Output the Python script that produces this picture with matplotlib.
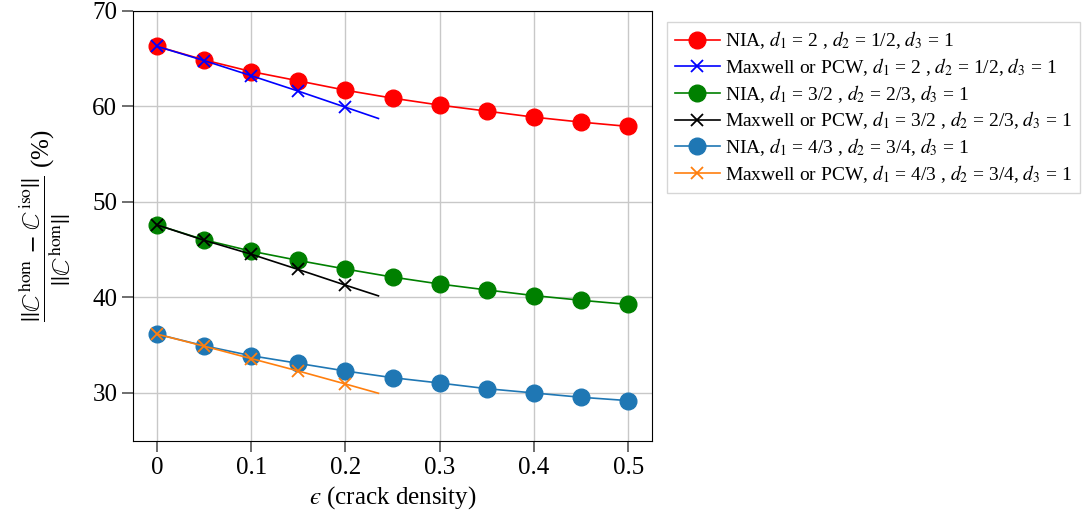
import numpy as np
import matplotlib
matplotlib.use('Agg')
import matplotlib.pyplot as plt

plt.rcParams['font.family'] = ['Liberation Serif', 'DejaVu Serif']
plt.rcParams['mathtext.fontset'] = 'stix'

# crack density
eps_nia = [0, 0.05, 0.1, 0.15, 0.2, 0.25, 0.3, 0.35, 0.4, 0.45, 0.5]
eps_mw = [0, 0.05, 0.1, 0.15, 0.2, 0.235]

# NIA results
nia_1 = [66.27, 64.85, 63.63, 62.66, 61.68, 60.85, 60.12, 59.49, 58.86, 58.34, 57.89]
nia_2 = [47.59, 46.03, 44.84, 43.87, 42.97, 42.13, 41.40, 40.78, 40.19, 39.70, 39.26]
nia_3 = [36.16, 34.94, 33.90, 33.10, 32.30, 31.60, 31.04, 30.45, 30.00, 29.55, 29.20]

# Maxwell / PCW results
mw_1 = [66.27, 64.78, 63.20, 61.58, 59.90, 58.72]
mw_2 = [47.59, 45.98, 44.52, 42.92, 41.28, 40.16]
mw_3 = [36.16, 34.90, 33.60, 32.30, 30.94, 29.97]

labels = [
    r'NIA, $d_1$ = 2 , $d_2$ = 1/2, $d_3$ = 1',
    r'Maxwell or PCW, $d_1$ = 2 , $d_2$ = 1/2, $d_3$ = 1',
    r'NIA, $d_1$ = 3/2 , $d_2$ = 2/3, $d_3$ = 1',
    r'Maxwell or PCW, $d_1$ = 3/2 , $d_2$ = 2/3, $d_3$ = 1',
    r'NIA, $d_1$ = 4/3 , $d_2$ = 3/4, $d_3$ = 1',
    r'Maxwell or PCW, $d_1$ = 4/3 , $d_2$ = 3/4, $d_3$ = 1',
]

fig = plt.figure(figsize=(10.83, 5.21), dpi=100)
ax = fig.add_axes([0.1231, 0.154, 0.6019 - 0.1231, 0.9795 - 0.154])

nia_cols = ['red', 'green', '#1f77b4']
mw_cols = ['blue', 'black', '#ff7f0e']
nia_all = [nia_1, nia_2, nia_3]
mw_all = [mw_1, mw_2, mw_3]

for i in range(3):
    ax.plot(eps_nia, nia_all[i], color=nia_cols[i], marker='o', markersize=12,
            lw=1.2, label=labels[2 * i])
    ax.plot(eps_mw, mw_all[i], color=mw_cols[i], marker='x', markersize=9,
            markeredgewidth=1.3, markevery=[0, 1, 2, 3, 4], lw=1.2,
            label=labels[2 * i + 1])

ax.set_xlim(-0.025, 0.525)
ax.set_ylim(25, 70)
ax.set_xticks([0, 0.1, 0.2, 0.3, 0.4, 0.5])
ax.set_xticklabels(['0', '0.1', '0.2', '0.3', '0.4', '0.5'])
ax.set_yticks([30, 40, 50, 60, 70])
ax.grid(True, color='#c8c8c8', lw=1)
ax.set_axisbelow(True)
ax.tick_params(labelsize=18, length=8, width=1.2, color='#555555')

ax.set_xlabel('$\u03f5$ (crack density)', fontsize=18)
ax.set_ylabel(r'$\dfrac{||\mathbb{C}^{\mathrm{hom}}\,-\,\mathbb{C}^{\mathrm{iso}}||}{||\mathbb{C}^{\mathrm{hom}}||}$ (%)',
              fontsize=18, labelpad=14)

leg = fig.legend(loc='upper left', bbox_to_anchor=(0.616, 0.958), fontsize=14,
                 handlelength=2.3, handletextpad=0.3, labelspacing=0.25,
                 fancybox=False, edgecolor='#cccccc', borderaxespad=0)
leg.get_frame().set_linewidth(1)

fig.savefig('out.png', dpi=100)
